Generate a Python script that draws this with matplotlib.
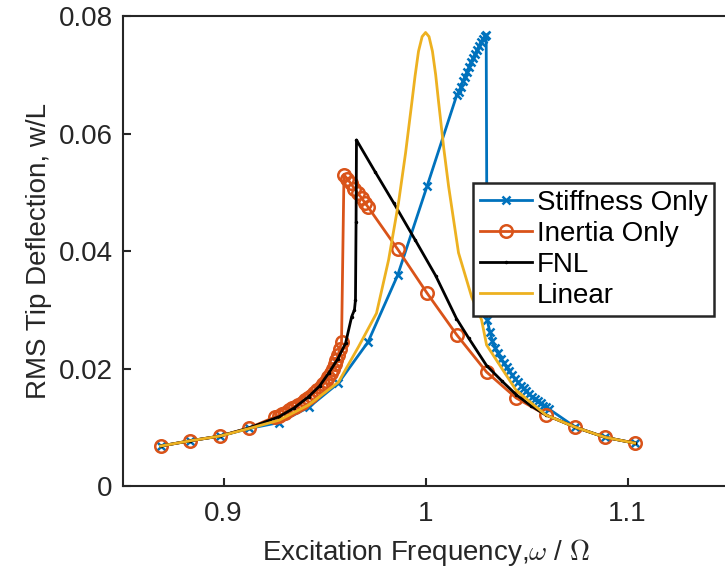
import matplotlib.pyplot as plt

plt.rcParams['font.family'] = ['Liberation Sans', 'DejaVu Sans']
plt.rcParams['mathtext.fontset'] = 'cm'

# Stiffness Only (sparse sweep + dense continuation around the peak)
stiff_x = [0.8688, 0.8835, 0.8982, 0.9128, 0.9275, 0.9422, 0.9568, 0.9715, 0.9862, 1.0008, 1.0155,
           1.0165, 1.0175, 1.0185, 1.0195, 1.0205, 1.0215, 1.0225, 1.0235, 1.0245, 1.0255, 1.0265,
           1.0275, 1.0285, 1.0295, 1.0300,
           1.0305, 1.0318, 1.0331, 1.0345, 1.0359, 1.0373, 1.0387, 1.0401, 1.0415, 1.0429, 1.0443,
           1.0457, 1.0471, 1.0485, 1.0499, 1.0513, 1.0527, 1.0541, 1.0555, 1.0569, 1.0583, 1.0597,
           1.0611, 1.0742, 1.0888, 1.1035]
stiff_y = [0.0068, 0.0077, 0.0085, 0.0098, 0.0108, 0.0134, 0.0175, 0.0245, 0.0359, 0.0511, 0.0666,
           0.0670, 0.0680, 0.0689, 0.0697, 0.0705, 0.0713, 0.0721, 0.0728, 0.0735, 0.0742, 0.0749,
           0.0755, 0.0761, 0.0766, 0.0768,
           0.0282, 0.0263, 0.0247, 0.0235, 0.0226, 0.0217, 0.0209, 0.0202, 0.0195, 0.0189, 0.0183,
           0.0177, 0.0171, 0.0166, 0.0161, 0.0156, 0.0152, 0.0148, 0.0144, 0.0141, 0.0137, 0.0134,
           0.0131, 0.0100, 0.0083, 0.0073]

# Inertia Only
inert_x = [0.8688, 0.8835, 0.8982, 0.9128,
           0.9257, 0.9275, 0.9290, 0.9305, 0.9322, 0.9338, 0.9354, 0.9370, 0.9386, 0.9402, 0.9418,
           0.9434, 0.9450, 0.9465, 0.9480, 0.9494, 0.9507, 0.9519, 0.9530, 0.9540, 0.9550, 0.9559,
           0.9567, 0.9575, 0.9584,
           0.9596, 0.9612, 0.9630, 0.9648, 0.9666, 0.9684, 0.9702, 0.9715,
           0.9862, 1.0008, 1.0155, 1.0302, 1.0448, 1.0595, 1.0742, 1.0888, 1.1035]
inert_y = [0.0068, 0.0077, 0.0085, 0.0099,
           0.0118, 0.0120, 0.0122, 0.0125, 0.0129, 0.0132, 0.0135, 0.0138, 0.0142, 0.0146, 0.0150,
           0.0154, 0.0158, 0.0163, 0.0168, 0.0173, 0.0179, 0.0185, 0.0192, 0.0199, 0.0207, 0.0215,
           0.0223, 0.0233, 0.0245,
           0.0530, 0.0523, 0.0515, 0.0506, 0.0498, 0.0490, 0.0481, 0.0475,
           0.0403, 0.0328, 0.0257, 0.0194, 0.0150, 0.0121, 0.0100, 0.0083, 0.0073]

# FNL
fnl_x = [0.8688, 0.8835, 0.8982, 0.9128, 0.9275, 0.9350, 0.9421, 0.9475, 0.9520, 0.9565, 0.9604,
         0.9634, 0.9648, 0.9653, 0.9656, 0.9658, 0.9750, 0.9842, 0.9950, 1.0050, 1.0153, 1.0213,
         1.0302, 1.0380, 1.0450, 1.0520, 1.0595, 1.0742, 1.0888, 1.1035]
fnl_y = [0.0068, 0.0077, 0.0085, 0.0099, 0.0118, 0.0133, 0.0152, 0.0170, 0.0192, 0.0216, 0.0243,
         0.0288, 0.0300, 0.0317, 0.0450, 0.0589, 0.0535, 0.0482, 0.0418, 0.0358, 0.0285, 0.0252,
         0.0205, 0.0178, 0.0155, 0.0137, 0.0121, 0.0100, 0.0083, 0.0073]

# Linear
lin_x = [0.8688, 0.8835, 0.8982, 0.9128, 0.9275, 0.9421, 0.9569, 0.9668, 0.9757, 0.9817, 0.9866,
         0.9901, 0.9931, 0.9948, 0.9965, 0.9983, 1.0000, 1.0017, 1.0034, 1.0050, 1.0064, 1.0090,
         1.0114, 1.0163, 1.0228, 1.0277, 1.0302, 1.0448, 1.0595, 1.0742, 1.0888, 1.1035]
lin_y = [0.0068, 0.0077, 0.0085, 0.0098, 0.0112, 0.0138, 0.0177, 0.0237, 0.0294, 0.0385, 0.0482,
         0.0567, 0.0650, 0.0698, 0.0740, 0.0765, 0.0772, 0.0765, 0.0740, 0.0700, 0.0655, 0.0575,
         0.0510, 0.0397, 0.0322, 0.0283, 0.0240, 0.0163, 0.0121, 0.0100, 0.0083, 0.0073]

x_ticks = [0.9, 1.0, 1.1]
x_tick_labels = ['0.9', '1', '1.1']
y_ticks = [0, 0.02, 0.04, 0.06, 0.08]
y_tick_labels = ['0', '0.02', '0.04', '0.06', '0.08']

fig = plt.figure(figsize=(7.25, 5.79), dpi=100)
ax = fig.add_axes([0.169, 0.1606, 0.836, 0.8117])

ax.plot(stiff_x, stiff_y, color='#0072BD', lw=2, marker='x', ms=6, mew=1.8,
        label='Stiffness Only')
ax.plot(inert_x, inert_y, color='#D95319', lw=2, marker='o', ms=9, mew=1.8,
        mfc='none', label='Inertia Only')
ax.plot(fnl_x, fnl_y, color='black', lw=2, marker='.', ms=3, label='FNL')
ax.plot(lin_x, lin_y, color='#EDB120', lw=2, label='Linear')

ax.set_xlim(0.85, 1.15)
ax.set_ylim(0, 0.08)
ax.set_xticks(x_ticks, x_tick_labels)
ax.set_yticks(y_ticks, y_tick_labels)
ax.tick_params(direction='in', length=6, width=1.5, labelsize=20, colors='#262626',
               top=False, right=False, pad=7)
ax.tick_params(axis='x', pad=11)
for s in ax.spines.values():
    s.set_linewidth(1.5)
    s.set_color('#262626')

ax.set_xlabel(r'Excitation Frequency,$\omega$ / $\Omega$', fontsize=20, color='#262626',
              labelpad=7)
ax.set_ylabel('RMS Tip Deflection, w/L', fontsize=20, color='#262626', labelpad=5)

leg = ax.legend(loc='upper left', bbox_to_anchor=(0.652, 0.684), bbox_transform=fig.transFigure,
                fontsize=20, frameon=True, fancybox=False, framealpha=1, borderaxespad=0,
                handlelength=1.9, labelspacing=0.18, handletextpad=0.15, borderpad=0.25)
leg.get_frame().set_edgecolor('#262626')
leg.get_frame().set_linewidth(1.8)

fig.savefig('out.png', dpi=100)
